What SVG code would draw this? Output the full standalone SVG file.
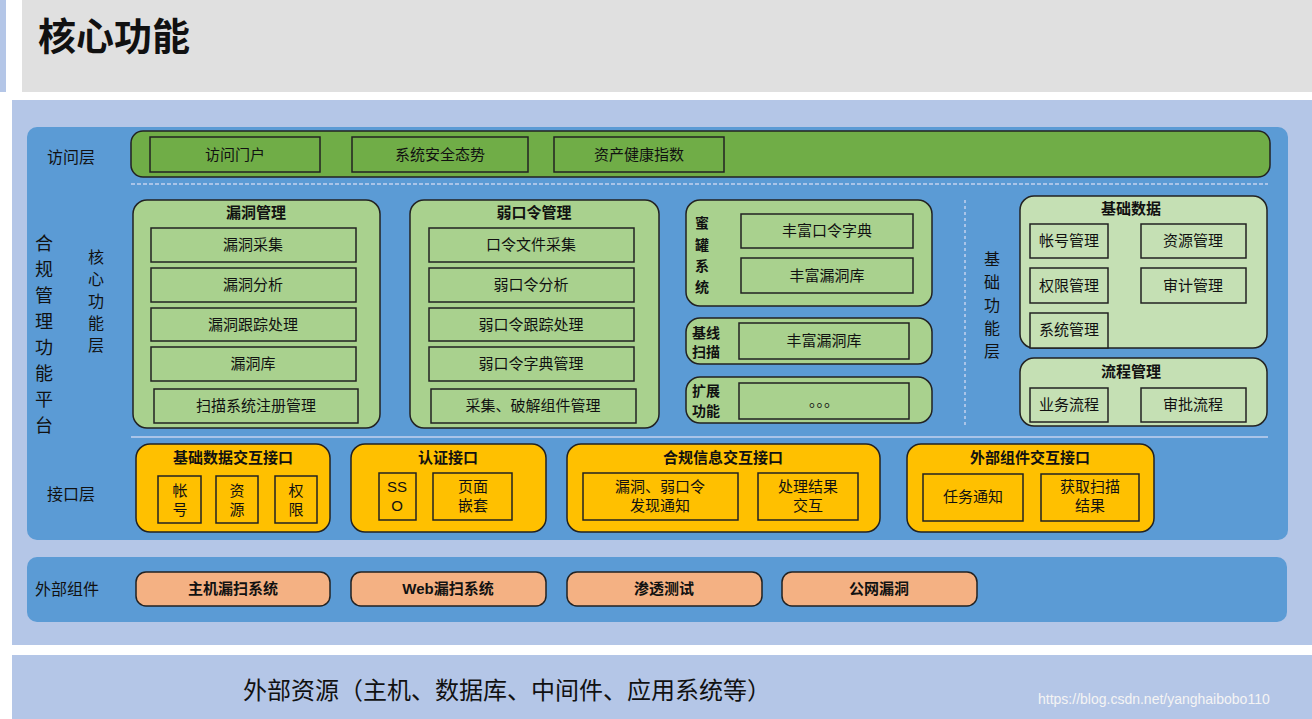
<svg xmlns="http://www.w3.org/2000/svg" width="1312" height="719" viewBox="0 0 1312 719">
<style>
text{font-family:"Liberation Sans","Noto Sans CJK SC",sans-serif;fill:#111}
.g{fill:#a9d18e;stroke:#222;stroke-width:1.5}
.lg{fill:#c5e0b4;stroke:#222;stroke-width:1.5}
.dg{fill:#70ad47;stroke:#222;stroke-width:1.5}
.y{fill:#ffc000;stroke:#222;stroke-width:1.5}
.o{fill:#f4b183;stroke:#222;stroke-width:1.5}
.t{font-size:15px;text-anchor:middle}
.b{font-size:15px;font-weight:bold;text-anchor:middle}
.l{font-size:16px}
</style>
<rect x="0" y="0" width="1312" height="719" fill="#fff"/>
<rect x="22" y="0" width="1290" height="92" fill="#e0e0e0"/>
<rect x="0" y="0" width="6" height="92" fill="#b4c6e7"/>
<text x="38" y="50" font-size="38" font-weight="bold">核心功能</text>
<rect x="12" y="100" width="1300" height="545" fill="#b4c6e7"/>
<rect x="12" y="655" width="1300" height="64" fill="#b4c6e7"/>
<rect x="27" y="127" width="1261" height="413" rx="10" fill="#5b9bd5"/>
<rect x="27" y="557" width="1260" height="65" rx="10" fill="#5b9bd5"/>
<g id="connectors">
<line x1="131" y1="184" x2="1268" y2="184" stroke="#a9c4e8" stroke-width="2" stroke-dasharray="4 2"/>
<line x1="131" y1="437" x2="1268" y2="437" stroke="#a9c4e8" stroke-width="2"/>
<line x1="965" y1="200" x2="965" y2="425" stroke="#a9c4e8" stroke-width="2" stroke-dasharray="3 3"/>
</g>
<g id="labels">
<text class="l" x="47" y="163">访问层</text>
<text font-size="18" x="35" y="250">合</text><text font-size="18" x="35" y="276">规</text><text font-size="18" x="35" y="302">管</text><text font-size="18" x="35" y="328">理</text><text font-size="18" x="35" y="354">功</text><text font-size="18" x="35" y="380">能</text><text font-size="18" x="35" y="406">平</text><text font-size="18" x="35" y="432">台</text>
<text class="l" x="88" y="263">核</text><text class="l" x="88" y="285">心</text><text class="l" x="88" y="307">功</text><text class="l" x="88" y="329">能</text><text class="l" x="88" y="351">层</text>
<text class="l" x="984" y="265">基</text><text class="l" x="984" y="288">础</text><text class="l" x="984" y="311">功</text><text class="l" x="984" y="334">能</text><text class="l" x="984" y="357">层</text>
<text class="l" x="47" y="500">接口层</text>
<text class="l" x="35" y="595">外部组件</text>
</g>
<g id="access">
<rect class="dg" x="131" y="131" width="1139" height="46" rx="12"/>
<rect class="dg" x="150" y="137" width="170" height="35"/><text class="t" x="235" y="160">访问门户</text>
<rect class="dg" x="352" y="137" width="176" height="35"/><text class="t" x="440" y="160">系统安全态势</text>
<rect class="dg" x="554" y="137" width="170" height="35"/><text class="t" x="639" y="160">资产健康指数</text>
</g>
<g id="vuln">
<rect class="g" x="133" y="200" width="247" height="228" rx="14"/>
<text class="b" x="256" y="218">漏洞管理</text>
<rect class="g" x="151" y="228" width="205" height="34"/><text class="t" x="253" y="250">漏洞采集</text>
<rect class="g" x="151" y="268" width="205" height="34"/><text class="t" x="253" y="290">漏洞分析</text>
<rect class="g" x="151" y="308" width="205" height="33"/><text class="t" x="253" y="330">漏洞跟踪处理</text>
<rect class="g" x="151" y="347" width="205" height="34"/><text class="t" x="253" y="369">漏洞库</text>
<rect class="g" x="154" y="389" width="204" height="34"/><text class="t" x="256" y="411">扫描系统注册管理</text>
</g>
<g id="weak">
<rect class="g" x="410" y="200" width="249" height="228" rx="14"/>
<text class="b" x="534" y="218">弱口令管理</text>
<rect class="g" x="429" y="228" width="205" height="34"/><text class="t" x="531" y="250">口令文件采集</text>
<rect class="g" x="429" y="268" width="205" height="34"/><text class="t" x="531" y="290">弱口令分析</text>
<rect class="g" x="429" y="308" width="205" height="33"/><text class="t" x="531" y="330">弱口令跟踪处理</text>
<rect class="g" x="429" y="347" width="205" height="34"/><text class="t" x="531" y="369">弱口令字典管理</text>
<rect class="g" x="431" y="389" width="205" height="34"/><text class="t" x="533" y="411">采集、破解组件管理</text>
</g>
<g id="honeypot">
<rect class="g" x="686" y="200" width="246" height="106" rx="14"/>
<text font-size="14" font-weight="bold" x="695" y="228">蜜</text><text font-size="14" font-weight="bold" x="695" y="250">罐</text><text font-size="14" font-weight="bold" x="695" y="271">系</text><text font-size="14" font-weight="bold" x="695" y="292">统</text>
<rect class="g" x="741" y="214" width="172" height="34"/><text class="t" x="827" y="236">丰富口令字典</text>
<rect class="g" x="741" y="258" width="172" height="35"/><text class="t" x="827" y="281">丰富漏洞库</text>
</g>
<g id="baseline">
<rect class="g" x="686" y="318" width="246" height="46" rx="14"/>
<text font-size="14" font-weight="bold" x="692" y="338">基线</text><text font-size="14" font-weight="bold" x="692" y="357">扫描</text>
<rect class="g" x="739" y="323" width="170" height="36"/><text class="t" x="824" y="346">丰富漏洞库</text>
</g>
<g id="extend">
<rect class="g" x="686" y="377" width="246" height="46" rx="14"/>
<text font-size="14" font-weight="bold" x="692" y="396">扩展</text><text font-size="14" font-weight="bold" x="692" y="416">功能</text>
<rect class="g" x="739" y="383" width="170" height="36"/><text class="t" x="824" y="406">。。。</text>
</g>
<g id="basedata">
<rect class="lg" x="1020" y="196" width="247" height="152" rx="14"/>
<text class="b" x="1131" y="214">基础数据</text>
<rect class="lg" x="1030" y="224" width="78" height="34"/><text class="t" x="1069" y="246">帐号管理</text>
<rect class="lg" x="1141" y="224" width="105" height="34"/><text class="t" x="1193" y="246">资源管理</text>
<rect class="lg" x="1030" y="268" width="78" height="35"/><text class="t" x="1069" y="291">权限管理</text>
<rect class="lg" x="1141" y="268" width="105" height="35"/><text class="t" x="1193" y="291">审计管理</text>
<rect class="lg" x="1030" y="313" width="78" height="35"/><text class="t" x="1069" y="335">系统管理</text>
</g>
<g id="flow">
<rect class="lg" x="1020" y="358" width="247" height="68" rx="14"/>
<text class="b" x="1131" y="377">流程管理</text>
<rect class="lg" x="1030" y="388" width="78" height="34"/><text class="t" x="1069" y="410">业务流程</text>
<rect class="lg" x="1141" y="388" width="105" height="34"/><text class="t" x="1193" y="410">审批流程</text>
</g>
<g id="if1">
<rect class="y" x="136" y="444" width="194" height="88" rx="14"/>
<text class="b" x="233" y="463">基础数据交互接口</text>
<rect class="y" x="158" y="476" width="43" height="47"/><text class="t" x="180" y="496">帐</text><text class="t" x="180" y="515">号</text>
<rect class="y" x="216" y="476" width="42" height="47"/><text class="t" x="237" y="496">资</text><text class="t" x="237" y="515">源</text>
<rect class="y" x="275" y="476" width="42" height="47"/><text class="t" x="296" y="496">权</text><text class="t" x="296" y="515">限</text>
</g>
<g id="if2">
<rect class="y" x="351" y="444" width="195" height="88" rx="14"/>
<text class="b" x="448" y="463">认证接口</text>
<rect class="y" x="379" y="473" width="37" height="47"/><text class="t" x="397" y="492">SS</text><text class="t" x="397" y="511">O</text>
<rect class="y" x="433" y="473" width="79" height="47"/><text class="t" x="473" y="492">页面</text><text class="t" x="473" y="511">嵌套</text>
</g>
<g id="if3">
<rect class="y" x="567" y="444" width="313" height="88" rx="14"/>
<text class="b" x="723" y="463">合规信息交互接口</text>
<rect class="y" x="583" y="473" width="155" height="47"/><text class="t" x="660" y="492">漏洞、弱口令</text><text class="t" x="660" y="511">发现通知</text>
<rect class="y" x="758" y="473" width="100" height="47"/><text class="t" x="808" y="492">处理结果</text><text class="t" x="808" y="511">交互</text>
</g>
<g id="if4">
<rect class="y" x="907" y="444" width="247" height="88" rx="14"/>
<text class="b" x="1030" y="463">外部组件交互接口</text>
<rect class="y" x="923" y="474" width="100" height="47"/><text class="t" x="973" y="502">任务通知</text>
<rect class="y" x="1041" y="474" width="98" height="47"/><text class="t" x="1090" y="492">获取扫描</text><text class="t" x="1090" y="511">结果</text>
</g>
<g id="ext">
<rect class="o" x="136" y="572" width="194" height="34" rx="10"/><text class="b" x="233" y="594">主机漏扫系统</text>
<rect class="o" x="351" y="572" width="195" height="34" rx="10"/><text class="b" x="448" y="594">Web漏扫系统</text>
<rect class="o" x="567" y="572" width="195" height="34" rx="10"/><text class="b" x="664" y="594">渗透测试</text>
<rect class="o" x="782" y="572" width="195" height="34" rx="10"/><text class="b" x="879" y="594">公网漏洞</text>
</g>
<text x="243" y="699" font-size="24">外部资源（主机、数据库、中间件、应用系统等）</text>
<text x="1038" y="704" font-size="14" fill="#fff" style="fill:#f4f4f4">https://blog.csdn.net/yanghaibobo110</text>
</svg>
